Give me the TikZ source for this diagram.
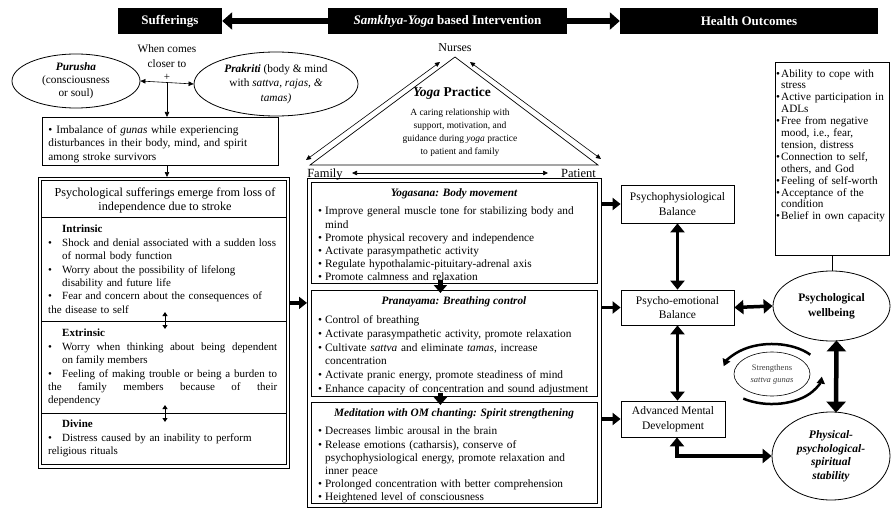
\documentclass[tikz,border=0pt]{standalone}
\usepackage{fontspec}
\setmainfont{Liberation Serif}
\usetikzlibrary{arrows.meta,shapes.geometric,calc}
\newcommand{\myfs}[2]{\fontsize{#1}{#2}\selectfont}
\newcommand{\bitem}[2]{\par\noindent\hangindent=#1\hangafter=1\makebox[#1][l]{\textbullet}#2}
\setlength{\parskip}{0pt}
\begin{document}
\begin{tikzpicture}[x=1pt,y=-1pt,
  every node/.style={inner sep=0pt},
  bx/.style={draw, line width=0.8pt},
  blk/.style={fill=black, text=white, font=\myfs{13}{15}\bfseries, minimum height=26pt},
  txt/.style={anchor=north west, align=left},
  tarr/.style={line width=0.6pt, -{Triangle[length=5pt,width=4.5pt]}},
  tdbl/.style={line width=0.6pt, {Triangle[length=5pt,width=4.5pt]}-{Triangle[length=5pt,width=4.5pt]}},
  sdbl/.style={line width=0.8pt, {Triangle[length=4pt,width=5pt]}-{Triangle[length=4pt,width=5pt]}},
  fatarr/.style={line width=3.2pt, -{Triangle[length=8pt,width=12pt]}},
  fatv/.style={line width=5pt, -{Triangle[length=8pt,width=13pt]}},
  fatdbl/.style={line width=3.5pt, {Triangle[length=9pt,width=14pt]}-{Triangle[length=9pt,width=14pt]}},
  bigdbl/.style={line width=4.5pt, {Triangle[length=11pt,width=19pt]}-{Triangle[length=11pt,width=19pt]}},
  toparr/.style={line width=6pt, -{Triangle[length=10pt,width=17pt]}},
  arcarr/.style={line width=2.5pt, -{Triangle[length=7pt,width=8pt]}},
  body/.style={font=\myfs{11.3}{13.4}},
  lbody/.style={font=\myfs{11}{13.4}}
]
\useasboundingbox (0,0) rectangle (891,508);

% ---------- top bar ----------
\node[blk, minimum width=104pt] (suff) at (170,21) {Sufferings};
\node[blk, minimum width=239pt] (interv) at (447.5,21) {\textit{Samkhya-Yoga} based Intervention};
\node[blk, minimum width=258pt] (health) at (749,21) {Health Outcomes};
\draw[toparr] (interv.west) -- (suff.east);
\draw[toparr] (interv.east) -- (health.west);

% ---------- left top ----------
\node[draw, ellipse, line width=0.8pt, minimum width=128pt, minimum height=54pt, align=center, font=\myfs{11.3}{12.8}] (pur) at (76,81)
  {\textbf{\textit{Purusha}}\\(consciousness\\or soul)};
\node[draw, ellipse, line width=0.8pt, minimum width=164pt, minimum height=64pt, align=center, font=\myfs{11.3}{14.5}] (pra) at (276,84)
  {\textbf{\textit{Prakriti}} (body \& mind\\with \textit{sattva, rajas, \&}\\\textit{tamas)}};
\node[font=\myfs{11.3}{15}, align=center] (wc) at (167,56.5) {When comes\\closer to};
\node[font=\myfs{11}{11}] (plus) at (167,77.5) {+};
\coordinate (jn) at ($(pur.east)!0.5!(pra.west)$);
\draw[tdbl] (pur.east) -- (pra.west);

\node[bx, anchor=north west, minimum width=236pt, minimum height=48pt, text width=224pt, inner xsep=6pt, align=left, body] (imb) at (42,117)
  {\bitem{8pt}{Imbalance of \textit{gunas} while experiencing\newline disturbances in their body, mind, and spirit\newline among stroke survivors}};
\draw[tarr] (jn) -- (jn |- imb.north);

% ---------- left column ----------
\node[bx, anchor=north west, minimum width=251pt, minimum height=291pt] (lf) at (38,177) {};
\node[bx, anchor=north west, minimum width=245pt, minimum height=284pt] (lfi) at (41,180) {};
\draw[tarr] (imb.south -| jn) -- (lf.north -| jn);
\draw[line width=0.8pt] (41,217) -- (286,217);
\draw[line width=0.8pt] (41,321) -- (286,321);
\draw[line width=0.8pt] (41,413) -- (286,413);

\node[font=\myfs{12.2}{13.2}, align=center] (hdr) at (165,200.5) {Psychological sufferings emerge from loss of\\independence due to stroke};

\node[txt, text width=240pt, lbody] (intr) at (48,225) {\hspace*{14pt}\textbf{Intrinsic}
  \bitem{14pt}{Shock and denial associated with a sudden loss\newline of normal body function}
  \bitem{14pt}{Worry about the possibility of lifelong\newline disability and future life}
  \bitem{14pt}{Fear and concern about the consequences of\newline the disease to self}};

\node[anchor=north west, align=justify, text width=229pt, lbody] (extr) at (48,329) {\hspace*{14pt}\textbf{Extrinsic}
  \bitem{14pt}{Worry when thinking about being dependent\linebreak on family members}
  \bitem{14pt}{Feeling of making trouble or being a burden to\linebreak the family members because of their\linebreak dependency}};

\node[txt, text width=240pt, lbody] (divn) at (48,420) {\hspace*{14pt}\textbf{Divine}
  \bitem{14pt}{Distress caused by an inability to perform\newline religious rituals}};

\coordinate (d1a) at (165,312); \coordinate (d1b) at (165,329);
\coordinate (d2a) at (165,405); \coordinate (d2b) at (165,422);
\draw[sdbl] (d1a) -- (d1b);
\draw[sdbl] (d2a) -- (d2b);

% ---------- triangle ----------
\node[font=\myfs{12}{14}] (nurses) at (455,48) {Nurses};
\node[font=\myfs{12.5}{14}, anchor=base] (family) at (325,177.5) {Family};
\node[font=\myfs{12.5}{14}, anchor=base] (patient) at (578.5,177.5) {Patient};
\draw[line width=0.7pt] (310,165) -- (455,57) -- (598,165) -- cycle;
\coordinate (fa) at (306,160); \coordinate (na) at (440,62);
\coordinate (nb) at (470,62); \coordinate (pa) at (601,159);
\draw[tdbl] (fa) -- (na);
\draw[tdbl] (nb) -- (pa);
\coordinate (fpa) at (352,173); \coordinate (fpb) at (548,173);
\draw[tdbl] (fpa) -- (fpb);
\node[font=\myfs{13.5}{15}\bfseries] (yp) at (452,93) {\textit{Yoga} Practice};
\node[font=\myfs{9.5}{13}, align=center] (care) at (460,132.5) {A caring relationship with\\support, motivation, and\\guidance during \textit{yoga} practice\\to patient and family};

% ---------- middle column ----------
\node[bx, anchor=north west, minimum width=294pt, minimum height=329pt] (mf) at (307,178) {};
\node[bx, anchor=north west, minimum width=286pt, minimum height=101pt] (yb) at (311,182) {};
\node[bx, anchor=north west, minimum width=286pt, minimum height=106pt] (pb) at (311,290) {};
\node[bx, anchor=north west, minimum width=286pt, minimum height=101pt] (mb) at (311,402) {};

\node[font=\myfs{11.3}{13}\bfseries\itshape] (yt) at (454,194) {Yogasana: Body movement};
\node[txt, text width=280pt, font=\myfs{11.3}{13.2}] (yl) at (318,201.5) {%
  \bitem{7pt}{Improve general muscle tone for stabilizing body and\newline mind}
  \bitem{7pt}{Promote physical recovery and independence}
  \bitem{7pt}{Activate parasympathetic activity}
  \bitem{7pt}{Regulate hypothalamic-pituitary-adrenal axis}
  \bitem{7pt}{Promote calmness and relaxation}};

\node[font=\myfs{11.3}{13}\bfseries\itshape] (pt) at (454,302) {Pranayama: Breathing control};
\node[txt, text width=280pt, font=\myfs{11.3}{13.8}] (pl) at (318,309.5) {%
  \bitem{7pt}{Control of breathing}
  \bitem{7pt}{Activate parasympathetic activity, promote relaxation}
  \bitem{7pt}{Cultivate \textit{sattva} and eliminate \textit{tamas}, increase\newline concentration}
  \bitem{7pt}{Activate pranic energy, promote steadiness of mind}
  \bitem{7pt}{Enhance capacity of concentration and sound adjustment}};

\node[font=\myfs{11.3}{13}\bfseries\itshape] (mt) at (454,414) {Meditation with OM chanting: Spirit strengthening};
\node[txt, text width=280pt, font=\myfs{11.3}{13.2}] (ml) at (318,421.5) {%
  \bitem{7pt}{Decreases limbic arousal in the brain}
  \bitem{7pt}{Release emotions (catharsis), conserve of\newline psychophysiological energy, promote relaxation and\newline inner peace}
  \bitem{7pt}{Prolonged concentration with better comprehension}
  \bitem{7pt}{Heightened level of consciousness}};

\draw[fatv] ($(yb.south)+(-14,-4)$) -- ($(pb.north)+(-14,3)$);
\draw[fatv] ($(pb.south)+(-14,-4)$) -- ($(mb.north)+(-14,3)$);

\coordinate (la) at ($(lf.east)+(0,-20)$);
\draw[fatarr] (la) -- (la -| mf.west);

% ---------- right column ----------
\node[bx, minimum width=113pt, minimum height=38pt, align=center, font=\myfs{11.5}{14.5}] (pp) at (677.5,204) {Psychophysiological\\Balance};
\node[bx, minimum width=113pt, minimum height=35pt, align=center, font=\myfs{11.5}{14.5}] (pe) at (677.5,307.5) {Psycho-emotional\\Balance};
\node[bx, minimum width=104pt, minimum height=36pt, align=center, font=\myfs{11.5}{14.5}] (adv) at (673,419) {Advanced Mental\\Development};

\draw[fatarr] (mf.east |- pp) -- (pp.west);
\draw[fatarr] (mf.east |- pe) -- (pe.west);
\draw[fatarr] (mf.east |- adv) -- (adv.west);

\node[bx, anchor=north west, minimum width=114pt, minimum height=193pt] (ho) at (775,62) {};
\node[txt, text width=114pt, font=\myfs{11.2}{11.9}] (hol) at (776,65) {%
  \bitem{5pt}{Ability to cope with\newline stress}
  \bitem{5pt}{Active participation in\newline ADLs}
  \bitem{5pt}{Free from negative\newline mood, i.e., fear,\newline tension, distress}
  \bitem{5pt}{Connection to self,\newline others, and God}
  \bitem{5pt}{Feeling of self-worth}
  \bitem{5pt}{Acceptance of the\newline condition}
  \bitem{5pt}{Belief in own capacity}};

\node[draw, ellipse, line width=0.8pt, minimum width=117pt, minimum height=70pt, align=center, font=\myfs{11.5}{15}\bfseries] (wb) at (831.5,306) {Psychological\\wellbeing};
\node[draw, ellipse, line width=0.8pt, minimum width=118pt, minimum height=88pt, align=center, font=\myfs{11.5}{13.5}\bfseries\itshape] (stab) at (831,456) {Physical-\\psychological-\\spiritual\\stability};
\node[draw, ellipse, line width=0.6pt, minimum width=76pt, minimum height=44pt, align=center, font=\myfs{8.5}{12}, text=black!75] (str) at (772,374) {Strengthens\\\textit{sattva gunas}};

\draw[line width=0.8pt] (ho.south) -- (ho.south |- wb.north);
\draw[fatdbl] (pp.south) -- (pe.north);
\draw[fatdbl] (pe.south) -- (pe.south |- adv.north);
\draw[fatdbl] (pe.east) -- (wb.west);
\draw[fatdbl] ($(adv.south)+(4,0)$) |- (stab.west);
\draw[bigdbl] ($(wb.south)+(5,-1)$) -- ($(stab.north)+(5,1)$);

\draw[arcarr] (810.3,354.7) arc[start angle=-40, end angle=-165, x radius=50, y radius=30];
\draw[arcarr] (743.3,398.6) arc[start angle=125, end angle=5, x radius=50, y radius=30];
\end{tikzpicture}
\end{document}
